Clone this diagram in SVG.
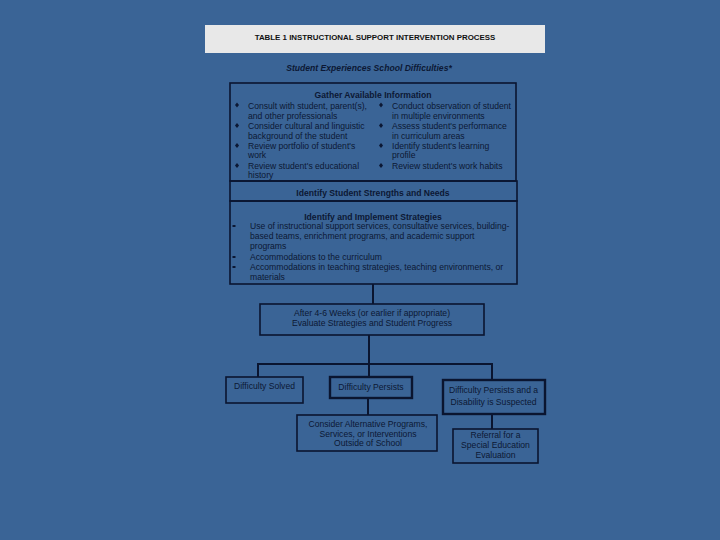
<svg xmlns="http://www.w3.org/2000/svg" width="720" height="540" viewBox="0 0 720 540">
<style>
  text { font-family: "Liberation Sans", Arial, sans-serif; fill: #0c1834; font-size: 8.6px; }
  .b { font-weight: bold; }
  .c { text-anchor: middle; }
  .box { fill: none; stroke: #0a1530; stroke-width: 1.6; }
  .thick { stroke-width: 2.4; }
  .ln { fill: none; stroke: #0a1530; stroke-width: 2; }
  .dia { fill: #0c1834; }
</style>
<rect x="0" y="0" width="720" height="540" fill="#3a6496"/>

<g id="header">
  <rect x="205" y="25" width="340" height="28" fill="#e8e8e8"/>
  <text class="b c" x="375" y="40" style="font-size:7.9px;fill:#111">TABLE 1 INSTRUCTIONAL SUPPORT INTERVENTION PROCESS</text>
</g>

<g id="start">
  <text class="b c" x="369" y="71" style="font-style:italic">Student Experiences School Difficulties*</text>
</g>

<g id="gather">
  <rect class="box" x="230" y="83" width="286" height="98"/>
  <text class="b c" x="373" y="98">Gather Available Information</text>
  <polygon class="dia" points="237,102.5 239,105 237,107.5 235,105"/>
  <polygon class="dia" points="237,123 239,125.5 237,128 235,125.5"/>
  <polygon class="dia" points="237,143 239,145.5 237,148 235,145.5"/>
  <polygon class="dia" points="237,163 239,165.5 237,168 235,165.5"/>
  <text x="248" y="108.5">Consult with student, parent(s),</text>
  <text x="248" y="118.5">and other professionals</text>
  <text x="248" y="128.5">Consider cultural and linguistic</text>
  <text x="248" y="138.5">background of the student</text>
  <text x="248" y="148.5">Review portfolio of student's</text>
  <text x="248" y="158">work</text>
  <text x="248" y="168.5">Review student's educational</text>
  <text x="248" y="178">history</text>
  <polygon class="dia" points="381,102.5 383,105 381,107.5 379,105"/>
  <polygon class="dia" points="381,123 383,125.5 381,128 379,125.5"/>
  <polygon class="dia" points="381,143 383,145.5 381,148 379,145.5"/>
  <polygon class="dia" points="381,163 383,165.5 381,168 379,165.5"/>
  <text x="392" y="108.5">Conduct observation of student</text>
  <text x="392" y="118.5">in multiple environments</text>
  <text x="392" y="128.5">Assess student's performance</text>
  <text x="392" y="138.5">in curriculum areas</text>
  <text x="392" y="148.5">Identify student's learning</text>
  <text x="392" y="158">profile</text>
  <text x="392" y="168.5">Review student's work habits</text>
</g>

<g id="strengths">
  <rect class="box" x="230" y="181" width="287" height="20"/>
  <text class="b c" x="373" y="195.5">Identify Student Strengths and Needs</text>
</g>

<g id="strategies">
  <rect class="box" x="230" y="201" width="287" height="83"/>
  <text class="b c" x="373" y="220">Identify and Implement Strategies</text>
  <rect class="dia" x="232.5" y="225" width="3" height="2"/>
  <rect class="dia" x="232.5" y="256" width="3" height="2"/>
  <rect class="dia" x="232.5" y="266" width="3" height="2"/>
  <text x="250" y="229">Use of instructional support services, consultative services, building-</text>
  <text x="250" y="239">based teams, enrichment programs, and academic support</text>
  <text x="250" y="249">programs</text>
  <text x="250" y="260">Accommodations to the curriculum</text>
  <text x="250" y="270">Accommodations in teaching strategies, teaching environments, or</text>
  <text x="250" y="280">materials</text>
</g>

<g id="evaluate">
  <rect class="box" x="260" y="304" width="224" height="31"/>
  <text class="c" x="372" y="316">After 4-6 Weeks (or earlier if appropriate)</text>
  <text class="c" x="372" y="326">Evaluate Strategies and Student Progress</text>
</g>

<g id="solved">
  <rect class="box" x="226" y="377" width="77" height="26"/>
  <text class="c" x="264.5" y="389">Difficulty Solved</text>
</g>

<g id="persists">
  <rect class="box thick" x="330" y="377" width="82" height="21"/>
  <text class="c" x="371" y="390">Difficulty Persists</text>
</g>

<g id="disability">
  <rect class="box thick" x="443" y="380" width="102" height="34"/>
  <text class="c" x="493.5" y="393">Difficulty Persists and a</text>
  <text class="c" x="493.5" y="405">Disability is Suspected</text>
</g>

<g id="alternative">
  <rect class="box" x="297" y="415" width="140" height="36"/>
  <text class="c" x="368" y="427">Consider Alternative Programs,</text>
  <text class="c" x="368" y="436.5">Services, or Interventions</text>
  <text class="c" x="368" y="446">Outside of School</text>
</g>

<g id="referral">
  <rect class="box" x="453" y="429" width="85" height="34"/>
  <text class="c" x="495.5" y="438">Referral for a</text>
  <text class="c" x="495.5" y="448">Special Education</text>
  <text class="c" x="495.5" y="458">Evaluation</text>
</g>

<g id="connectors">
  <line class="ln" x1="373" y1="284" x2="373" y2="304"/>
  <line class="ln" x1="369" y1="335" x2="369" y2="364"/>
  <polyline class="ln" points="258,377 258,364 492,364 492,380"/>
  <line class="ln" x1="369" y1="364" x2="369" y2="377"/>
  <line class="ln" x1="368" y1="398" x2="368" y2="415"/>
  <line class="ln" x1="492" y1="414" x2="492" y2="429"/>
</g>
</svg>
